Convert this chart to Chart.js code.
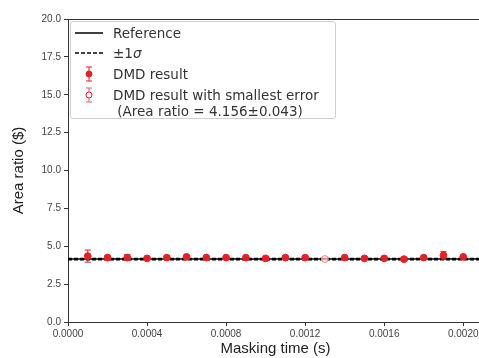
<!DOCTYPE html>
<html lang="en">

<head>
    <meta charset="UTF-8" />
    <title>Area ratio vs masking time</title>
    <script src="https://cdn.jsdelivr.net/npm/chart.js"></script>
    <style>
        * {
            font-family: 'DejaVu Sans', sans-serif;
            box-sizing: border-box;
        }

        body {
            margin: 0;
            background: #fff;
            overflow: hidden;
        }

        .wrap {
            position: relative;
            width: 500px;
            height: 358px;
        }

        .legend {
            position: absolute;
            left: 70px;
            top: 21px;
            width: 266px;
            height: 98px;
            border: 1px solid #d0d0d0;
            border-radius: 3px;
            background: rgba(255, 255, 255, 0.8);
            font-size: 13.5px;
            color: #333;
        }

        .legend .row {
            position: absolute;
            left: 0;
            height: 20px;
            line-height: 20px;
            white-space: nowrap;
        }

        .legend svg {
            position: absolute;
            left: 2px;
            top: 0;
        }

        .legend span {
            position: absolute;
            left: 42px;
        }
    </style>
</head>

<body>
    <div class="wrap">
        <canvas id="chart" width="500" height="358"></canvas>
        <div class="legend">
            <div class="row" style="top:1px">
                <svg width="34" height="20"><line x1="2" y1="10" x2="30" y2="10" stroke="#000" stroke-width="1.5" /></svg>
                <span>Reference</span>
            </div>
            <div class="row" style="top:21px">
                <svg width="34" height="20"><line x1="2" y1="10" x2="30" y2="10" stroke="#000" stroke-width="1.5" stroke-dasharray="4 2" /></svg>
                <span>±1<i>σ</i></span>
            </div>
            <div class="row" style="top:42px">
                <svg width="34" height="20">
                    <line x1="16" y1="3" x2="16" y2="17" stroke="#d62728" stroke-width="1" />
                    <line x1="13" y1="3" x2="19" y2="3" stroke="#d62728" stroke-width="1" />
                    <line x1="13" y1="17" x2="19" y2="17" stroke="#d62728" stroke-width="1" />
                    <circle cx="16" cy="10" r="3" fill="#e8202a" stroke="#d62728" />
                </svg>
                <span>DMD result</span>
            </div>
            <div class="row" style="top:63px">
                <svg width="34" height="20">
                    <line x1="16" y1="3" x2="16" y2="17" stroke="#e8606a" stroke-width="1" />
                    <line x1="13" y1="3" x2="19" y2="3" stroke="#e8606a" stroke-width="1" />
                    <line x1="13" y1="17" x2="19" y2="17" stroke="#e8606a" stroke-width="1" />
                    <circle cx="16" cy="10" r="3" fill="#fff" stroke="#e8202a" />
                </svg>
                <span>DMD result with smallest error</span>
            </div>
            <div class="row" style="top:79px">
                <span>&nbsp;(Area ratio = 4.156±0.043)</span>
            </div>
        </div>
    </div>

    <script>
        // ===== Data =====
        const times = [0.0001, 0.0002, 0.0003, 0.0004, 0.0005, 0.0006, 0.0007, 0.0008, 0.0009, 0.0010,
            0.0011, 0.0012, 0.0013, 0.0014, 0.0015, 0.0016, 0.0017, 0.0018, 0.0019, 0.0020];
        const ratios = [4.35, 4.25, 4.25, 4.2, 4.25, 4.3, 4.25, 4.25, 4.25, 4.2,
            4.25, 4.25, 4.156, 4.25, 4.2, 4.2, 4.15, 4.25, 4.4, 4.3];
        const errors = [0.4, 0.15, 0.2, 0.1, 0.1, 0.1, 0.1, 0.1, 0.1, 0.1,
            0.1, 0.1, 0.043, 0.1, 0.1, 0.1, 0.1, 0.1, 0.25, 0.1];
        const bestIndex = 12;
        const refValue = 4.156;
        const refSigma = 0.043;
        const xRange = [0, 0.0021];
        const xTicks = [0, 0.0004, 0.0008, 0.0012, 0.0016, 0.0020];
        const yTicks = [0, 2.5, 5, 7.5, 10, 12.5, 15, 17.5, 20];

        const dmdPoints = times.map((t, i) => i === bestIndex ? null : { x: t, y: ratios[i], err: errors[i] }).filter(p => p);
        const bestPoint = [{ x: times[bestIndex], y: ratios[bestIndex], err: errors[bestIndex] }];
        const flat = v => xRange.map(x => ({ x: x, y: v }));

        // error bars + top spine
        const errorBars = {
            id: 'errorBars',
            afterDatasetsDraw(chart) {
                const ctx = chart.ctx;
                const xs = chart.scales.x, ys = chart.scales.y;
                chart.data.datasets.forEach(ds => {
                    if (!ds.errorColor) return;
                    ds.data.forEach(p => {
                        const px = xs.getPixelForValue(p.x);
                        const top = ys.getPixelForValue(p.y + p.err);
                        const bot = ys.getPixelForValue(p.y - p.err);
                        ctx.save();
                        ctx.strokeStyle = ds.errorColor;
                        ctx.lineWidth = 1;
                        ctx.beginPath();
                        ctx.moveTo(px, top); ctx.lineTo(px, bot);
                        ctx.moveTo(px - 3, top); ctx.lineTo(px + 3, top);
                        ctx.moveTo(px - 3, bot); ctx.lineTo(px + 3, bot);
                        ctx.stroke();
                        ctx.restore();
                    });
                });
                const a = chart.chartArea;
                ctx.save();
                ctx.strokeStyle = '#333';
                ctx.lineWidth = 1;
                ctx.beginPath();
                ctx.moveTo(a.left, a.top + 0.5);
                ctx.lineTo(a.right, a.top + 0.5);
                ctx.moveTo(a.right - 0.5, a.top);
                ctx.lineTo(a.right - 0.5, a.bottom);
                ctx.stroke();
                ctx.restore();
            }
        };

        new Chart(document.getElementById('chart'), {
            type: 'scatter',
            data: {
                datasets: [
                    {
                        label: 'DMD result',
                        data: dmdPoints,
                        backgroundColor: '#e8202a',
                        borderColor: '#e8202a',
                        pointRadius: 3.4,
                        errorColor: '#d62728',
                        order: 1
                    },
                    {
                        label: 'DMD result with smallest error',
                        data: bestPoint,
                        backgroundColor: 'rgba(255,255,255,0.9)',
                        borderColor: '#ef7f86',
                        pointRadius: 3.4,
                        errorColor: '#ef7f86',
                        order: 0
                    },
                    {
                        label: 'Reference',
                        type: 'line',
                        data: flat(refValue),
                        borderColor: '#000',
                        borderWidth: 1.5,
                        pointRadius: 0,
                        order: 3
                    },
                    {
                        label: '+1 sigma',
                        type: 'line',
                        data: flat(refValue + refSigma),
                        borderColor: '#000',
                        borderWidth: 1.5,
                        borderDash: [4, 2],
                        pointRadius: 0,
                        order: 2
                    },
                    {
                        label: '-1 sigma',
                        type: 'line',
                        data: flat(refValue - refSigma),
                        borderColor: '#000',
                        borderWidth: 1.5,
                        borderDash: [4, 2],
                        pointRadius: 0,
                        order: 2
                    }
                ]
            },
            options: {
                responsive: false,
                animation: false,
                layout: { padding: { top: 19, right: 17, left: 0, bottom: 0 } },
                plugins: {
                    legend: { display: false },
                    tooltip: { enabled: false }
                },
                scales: {
                    x: {
                        type: 'linear',
                        min: xRange[0],
                        max: xRange[1],
                        afterBuildTicks: s => { s.ticks = xTicks.map(v => ({ value: v })); },
                        afterFit: s => { s.height = 36; },
                        border: { color: '#333', width: 1 },
                        grid: { drawOnChartArea: false, tickLength: 4, tickColor: '#333' },
                        ticks: {
                            color: '#444',
                            font: { size: 10 },
                            padding: 2,
                            maxRotation: 0,
                            callback: v => v.toFixed(4)
                        },
                        title: {
                            display: true,
                            text: 'Masking time (s)',
                            color: '#222',
                            font: { size: 15 },
                            padding: { top: 0, bottom: 0 }
                        }
                    },
                    y: {
                        min: 0,
                        max: 20,
                        afterBuildTicks: s => { s.ticks = yTicks.map(v => ({ value: v })); },
                        afterFit: s => { s.width = 68; },
                        border: { color: '#333', width: 1 },
                        grid: { drawOnChartArea: false, tickLength: 4, tickColor: '#333' },
                        ticks: {
                            color: '#444',
                            font: { size: 10 },
                            padding: 3,
                            callback: v => v.toFixed(1)
                        },
                        title: {
                            display: true,
                            text: 'Area ratio ($)',
                            color: '#222',
                            font: { size: 15 },
                            padding: { top: 10, bottom: 4 }
                        }
                    }
                }
            },
            plugins: [errorBars]
        });
    </script>
</body>

</html>
